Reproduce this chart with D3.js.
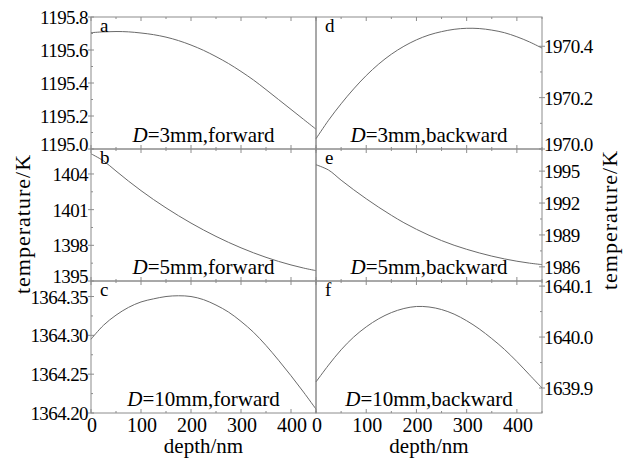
<!DOCTYPE html>
<html><head><meta charset="utf-8">
<script src="https://cdn.jsdelivr.net/npm/d3@7"></script>
<style>
html,body{margin:0;padding:0;background:#fff;}
svg{display:block;}
</style></head>
<body><svg id="chart" width="630" height="461" font-family="'Liberation Serif', 'Times New Roman', serif"></svg>
<script>
const depth = [0,25,50,75,100,125,150,175,200,225,250,275,300,325,350,375,400,425,450];
const seriesA = [1195.705,1195.710,1195.712,1195.710,1195.703,1195.693,1195.678,1195.657,1195.630,1195.598,1195.560,1195.518,1195.470,1195.418,1195.360,1195.300,1195.240,1195.180,1195.120];
const seriesB = [1405.7,1405.1,1404.25,1403.4,1402.6,1401.85,1401.15,1400.49,1399.87,1399.29,1398.75,1398.25,1397.79,1397.37,1396.99,1396.65,1396.35,1396.09,1395.87];
const seriesC = [1364.295,1364.313,1364.326,1364.336,1364.343,1364.347,1364.350,1364.351,1364.350,1364.346,1364.339,1364.330,1364.318,1364.304,1364.287,1364.268,1364.248,1364.227,1364.205];
const seriesD = [1970.040,1970.112,1970.176,1970.234,1970.286,1970.331,1970.369,1970.400,1970.425,1970.444,1970.457,1970.466,1970.470,1970.469,1970.463,1970.453,1970.437,1970.417,1970.393];
const seriesE = [1995.6,1995.1,1994.15,1993.25,1992.4,1991.6,1990.85,1990.15,1989.53,1988.97,1988.47,1988.03,1987.65,1987.31,1987.01,1986.75,1986.53,1986.35,1986.21];
const seriesF = [1639.912,1639.945,1639.975,1640.000,1640.020,1640.036,1640.048,1640.056,1640.060,1640.059,1640.054,1640.045,1640.032,1640.016,1639.997,1639.976,1639.952,1639.926,1639.900];

const panelLetters = ["a","b","c","d","e","f"];
const panelLabels = ["3mm,forward","5mm,forward","10mm,forward","3mm,backward","5mm,backward","10mm,backward"];
const yDomains = [[1195.0,1195.8],[1395,1406.1],[1364.20,1364.37],[1970.0,1970.514],[1984.67,1997.08],[1639.851,1640.11]];
const yTicks = [[1195.0,1195.2,1195.4,1195.6,1195.8],[1395,1398,1401,1404],[1364.20,1364.25,1364.30,1364.35],[1970.0,1970.2,1970.4],[1986,1989,1992,1995],[1639.9,1640.0,1640.1]];
const yFormats = [".1f","d",".2f",".1f","d",".1f"];
const xTicks = [0,100,200,300,400];
const xDomain = [0,450];
const xLabel = "depth/nm";
const yLabel = "temperature/K";

const allSeries = [seriesA,seriesB,seriesC,seriesD,seriesE,seriesF];

const svg = d3.select("#chart");
const colX = [[91,316],[316,542]];
const rowY = [[17,149],[149,281],[281,413]];
const borderColor = "#8c8c8c";
const lineColor = "#6a6a6a";
const fs = 19;

allSeries.forEach((vals,i)=>{
  const col = Math.floor(i/3), row = i%3;
  const [x0,x1] = colX[col], [y0,y1] = rowY[row];
  const x = d3.scaleLinear().domain(xDomain).range([x0,x1]);
  const y = d3.scaleLinear().domain(yDomains[i]).range([y1,y0]);
  const g = svg.append("g");
  g.append("rect").attr("x",x0).attr("y",y0).attr("width",x1-x0).attr("height",y1-y0)
    .attr("fill","none").attr("stroke",borderColor).attr("stroke-width",1);
  const minorX = d3.range(0,451,50);
  minorX.forEach(v=>{
    const len = (v%100===0)?4:2;
    g.append("line").attr("x1",x(v)).attr("x2",x(v)).attr("y1",y1).attr("y2",y1-len).attr("stroke",borderColor);
    g.append("line").attr("x1",x(v)).attr("x2",x(v)).attr("y1",y0).attr("y2",y0+len).attr("stroke",borderColor);
  });
  const fmt = d3.format(yFormats[i]);
  const tv = yTicks[i];
  const axisX = col===0 ? x0 : x1;
  const dir = col===0 ? -1 : 1;
  tv.forEach(v=>{
    g.append("line").attr("x1",axisX).attr("x2",axisX - dir*3).attr("y1",y(v)).attr("y2",y(v)).attr("stroke",borderColor);
    g.append("line").attr("x1",axisX).attr("x2",axisX + dir*3).attr("y1",y(v)).attr("y2",y(v)).attr("stroke",borderColor);
  });
  for(let k=0;k<tv.length-1;k++){
    const m=(tv[k]+tv[k+1])/2;
    g.append("line").attr("x1",axisX).attr("x2",axisX - dir*2).attr("y1",y(m)).attr("y2",y(m)).attr("stroke",borderColor);
  }
  g.selectAll("text.yt").data(tv).join("text").attr("class","yt")
    .attr("x", col===0 ? x0-3 : x1+2)
    .attr("y", d=>{
      const py = y(d);
      if(row<2 && Math.abs(py-y1)<3) return y1+2;
      return py+7;
    })
    .attr("text-anchor", col===0 ? "end" : "start")
    .attr("font-size",fs).attr("letter-spacing",-0.6)
    .text(d=>fmt(d));
  const line = d3.line().x((d,k)=>x(depth[k])).y(d=>y(d)).curve(d3.curveCatmullRom.alpha(0.5));
  g.append("path").datum(vals).attr("d",line).attr("fill","none").attr("stroke",lineColor).attr("stroke-width",1);
  g.append("text").attr("x",x0+9).attr("y",y0+15).attr("font-size",fs).text(panelLetters[i]);
  const t = g.append("text").attr("x",(x0+x1)/2).attr("y",y1-7).attr("text-anchor","middle").attr("font-size",21);
  t.append("tspan").attr("font-style","italic").text("D");
  t.append("tspan").text("="+panelLabels[i]);
  if(row===2){
    g.selectAll("text.xt").data(xTicks).join("text").attr("class","xt")
      .attr("x",d=>x(d)+1).attr("y",y1+19).attr("text-anchor","middle").attr("font-size",20)
      .text(d=>d);
    g.append("text").attr("x",(x0+x1)/2).attr("y",y1+40).attr("text-anchor","middle").attr("font-size",21).text(xLabel);
  }
});
svg.append("text").attr("transform","translate(30,224) rotate(-90)").attr("text-anchor","middle").attr("font-size",22).attr("letter-spacing",1).text(yLabel);
svg.append("text").attr("transform","translate(617,220) rotate(-90)").attr("text-anchor","middle").attr("font-size",22).attr("letter-spacing",1).text(yLabel);
</script></body></html>
